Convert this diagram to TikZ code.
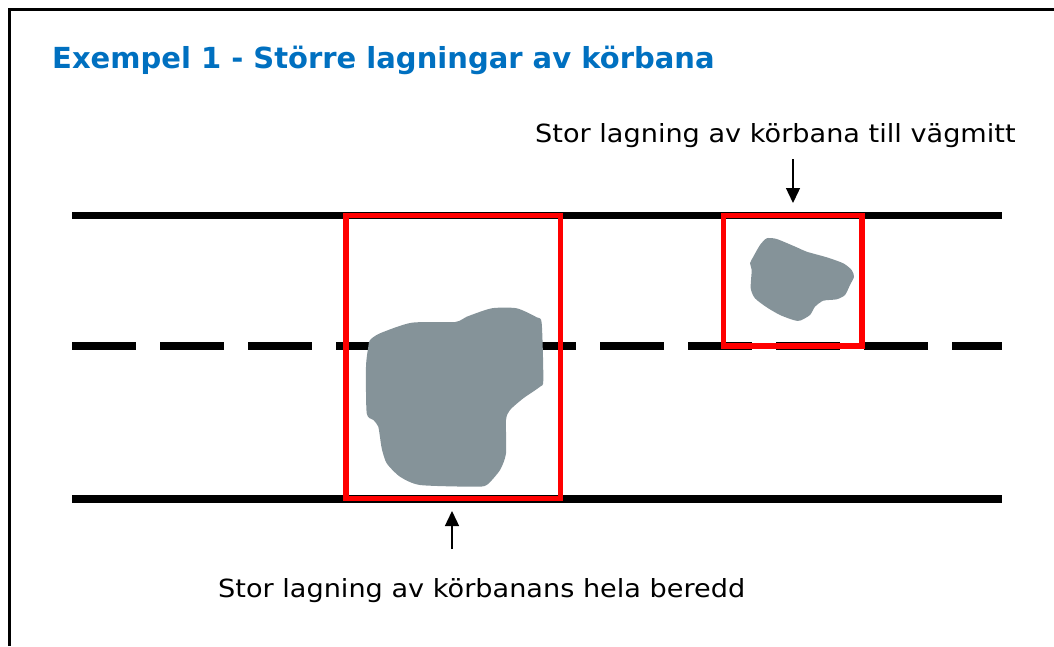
\documentclass[tikz,border=0pt]{standalone}
\usepackage{fontspec}
\setmainfont{DejaVu Sans}
\newfontfamily\lblfont[FakeStretch=1.085]{DejaVu Sans}
\usetikzlibrary{arrows.meta}
\definecolor{titleblue}{RGB}{0,112,192}
\definecolor{patchgray}{RGB}{133,147,153}
\definecolor{boxred}{RGB}{255,0,0}
\tikzset{
  roadline/.style={line width=7.5pt, black},
  centerline/.style={line width=7.5pt, black, dash pattern=on 64pt off 24pt},
  redbox/.style={draw=boxred, line width=5.7pt},
  patch/.style={fill=patchgray, draw=none},
  pointer/.style={line width=1.4pt, -{Triangle[width=14pt,length=15pt]}},
  lbl/.style={inner sep=0pt, anchor=base west, font=\lblfont\fontsize{25}{30}\selectfont},
  ttl/.style={inner sep=0pt, anchor=base west, text=titleblue, font=\bfseries\fontsize{29}{35}\selectfont},
  frameline/.style={line width=3pt, black}
}
\begin{document}
\begin{tikzpicture}[x=1pt,y=-1pt]
\useasboundingbox (0,0) rectangle (1054,646);
% frame (left and top)
\draw[frameline] (9.5,646) -- (9.5,9.5) -- (1054,9.5);
% title
\node[ttl] (title) at (52,68) {Exempel 1 - Större lagningar av körbana};
% road
\draw[roadline] (72,215.5) -- (1002,215.5);
\draw[centerline] (72,346) -- (1002,346);
\draw[roadline] (72,499) -- (1002,499);
% big patch
\fill[patch] plot[smooth cycle, tension=0.4] coordinates {
 (370,340) (380,333.3) (411.7,322.7) (455,322) (466.7,316.7) (491.7,308.3)
 (516.7,308.3) (536.7,317.3) (541.7,323.3) (543.3,380) (540,386.7) (523.3,398.3)
 (510,410) (506,420) (506,453.3) (500,470) (486.7,485) (473.3,486.7) (420,485)
 (400,476.7) (386.7,463.3) (381.7,448.3) (378.3,426.7) (373.3,420) (366.7,413.3)
 (366,366.7) (368.3,346.7)};
% small patch
\fill[patch] plot[smooth cycle, tension=0.4] coordinates {
 (766.7,238.3) (776.7,239) (796.7,247.3) (806.7,251.7) (826.7,257.3) (843.3,263.3)
 (851.7,270) (854,276.7) (850,285) (845,295) (836.7,299.3) (823.3,300.7)
 (815,306.7) (810,315) (800,320.7) (793.3,320) (780,315) (766.7,307.3)
 (755,298.3) (750.7,288.3) (751.7,270) (750,263.3) (753.3,256.7) (760,245)};
% red boxes
\draw[redbox] (346,215.5) rectangle (560.5,498.5);
\draw[redbox] (723.5,215.5) rectangle (862,345.7);
% labels
\node[lbl] (toplabel) at (535,142) {Stor lagning av körbana till vägmitt};
\node[lbl] (botlabel) at (218,597) {Stor lagning av körbanans hela beredd};
% arrows
\coordinate (topstart) at (793,159);
\coordinate (topend) at (793,203);
\coordinate (botstart) at (452,549);
\coordinate (botend) at (452,511);
\draw[pointer] (topstart) -- (topend);
\draw[pointer] (botstart) -- (botend);
\end{tikzpicture}
\end{document}
